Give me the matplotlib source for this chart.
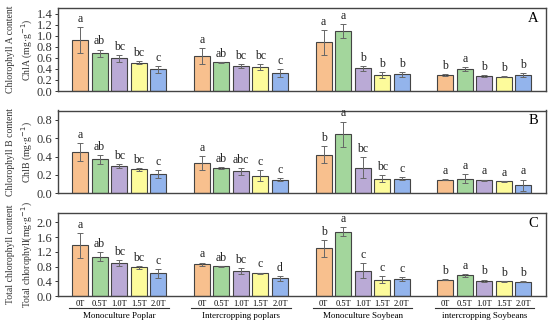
import matplotlib.pyplot as plt
import numpy as np

plt.rcParams['font.family'] = ['Liberation Serif', 'DejaVu Serif']

groups = ["Monoculture Poplar", "Intercropping poplars", "Monoculture Soybean", "intercropping Soybeans"]
treatments = ["0T", "0.5T", "1.0T", "1.5T", "2.0T"]
colors = ["#F8C08E", "#A3D69C", "#BAAAD6", "#FDFB9B", "#93B4EC"]

chla = [[0.92, 0.68, 0.59, 0.51, 0.39],
        [0.63, 0.52, 0.45, 0.43, 0.32],
        [0.88, 1.09, 0.41, 0.285, 0.30],
        [0.29, 0.40, 0.27, 0.26, 0.285]]
chla_err = [[0.24, 0.07, 0.06, 0.03, 0.07],
            [0.14, 0.01, 0.04, 0.05, 0.07],
            [0.22, 0.13, 0.04, 0.05, 0.04],
            [0.01, 0.03, 0.02, 0.01, 0.04]]
chla_let = [["a", "ab", "bc", "bc", "c"],
            ["a", "ab", "bc", "bc", "c"],
            ["a", "a", "b", "b", "b"],
            ["b", "a", "b", "b", "b"]]

chlb = [[0.45, 0.37, 0.30, 0.26, 0.21],
        [0.33, 0.28, 0.24, 0.19, 0.15],
        [0.42, 0.64, 0.28, 0.16, 0.16],
        [0.15, 0.16, 0.14, 0.13, 0.09]]
chlb_err = [[0.10, 0.05, 0.02, 0.02, 0.04],
            [0.08, 0.01, 0.04, 0.06, 0.02],
            [0.09, 0.14, 0.11, 0.04, 0.02],
            [0.005, 0.05, 0.01, 0.005, 0.06]]
chlb_let = [["a", "ab", "bc", "bc", "c"],
            ["a", "ab", "abc", "c", "c"],
            ["b", "a", "bc", "bc", "c"],
            ["a", "a", "a", "a", "a"]]

total = [[1.38, 1.07, 0.90, 0.78, 0.62],
         [0.86, 0.81, 0.68, 0.62, 0.48],
         [1.30, 1.75, 0.69, 0.45, 0.47],
         [0.45, 0.57, 0.42, 0.40, 0.39]]
total_err = [[0.34, 0.12, 0.08, 0.04, 0.12],
             [0.05, 0.01, 0.07, 0.02, 0.06],
             [0.23, 0.13, 0.20, 0.10, 0.05],
             [0.01, 0.04, 0.03, 0.01, 0.01]]
total_let = [["a", "ab", "bc", "bc", "c"],
             ["a", "ab", "bc", "c", "d"],
             ["b", "a", "c", "c", "c"],
             ["b", "a", "b", "b", "b"]]

panels = [
    (chla, chla_err, chla_let, "Chlorophyll A content\nChlA (mg·g$^{-1}$)", "A", 1.5, np.arange(0, 1.41, 0.2)),
    (chlb, chlb_err, chlb_let, "Chlorophyll B content\nChlB (mg·g$^{-1}$)", "B", 0.9, np.arange(0, 0.81, 0.2)),
    (total, total_err, total_let, "Total chlorophyll content\nTotal chlorophyll(mg·g$^{-1}$)", "C", 2.25, np.arange(0, 2.01, 0.4)),
]

step = 6.24
width = 0.82
edge = "#444444"

fig = plt.figure(figsize=(5.5, 3.25), dpi=100)
bottoms = [0.72, 0.405, 0.089]

for p, (vals, errs, lets, ylab, tag, ymax, yt) in enumerate(panels):
    ax = fig.add_axes([0.1055, bottoms[p], 0.887, 0.255])
    xs_all = []
    for g in range(4):
        xs = g * step + np.arange(5)
        xs_all.extend(xs)
        ax.bar(xs, vals[g], width=width, color=colors, edgecolor=edge, linewidth=0.8, zorder=2)
        ax.errorbar(xs, vals[g], yerr=errs[g], fmt="none", ecolor="#666666",
                    elinewidth=0.7, capsize=2.5, capthick=0.7, zorder=3)
        for i in range(5):
            ax.text(xs[i], vals[g][i] + errs[g][i] + ymax * 0.025, lets[g][i],
                    ha="center", va="bottom", fontsize=8.5, color="#222222")
    ax.set_xlim(-1.13, 23.87)
    ax.set_ylim(0, ymax)
    ax.set_yticks(yt)
    ax.set_yticklabels(["%.1f" % v for v in yt], fontsize=9)
    ax.tick_params(axis="y", length=2.5, width=0.7, pad=1.5, colors="#333333")
    for s in ax.spines.values():
        s.set_color("#444444")
        s.set_linewidth(1.0)
    ax.set_ylabel(ylab, fontsize=7, color="#333333", labelpad=1, linespacing=1.5)
    ax.text(0.985, 0.88, tag, transform=ax.transAxes, ha="right", va="center", fontsize=10.5)
    if p == 2:
        ax.set_xticks(xs_all)
        ax.set_xticklabels(treatments * 4, fontsize=6)
        ax.tick_params(axis="x", length=0, pad=3)
        for g in range(4):
            x0 = g * step - 0.55
            x1 = g * step + 4.55
            ax.plot([x0, x1], [-0.14 * ymax, -0.14 * ymax], color="#333333", lw=0.8, clip_on=False)
            ax.text(g * step + 2, -0.245 * ymax, groups[g], ha="center", va="center", fontsize=6.5)
    else:
        ax.set_xticks([])

fig.savefig("out.png", dpi=100)
